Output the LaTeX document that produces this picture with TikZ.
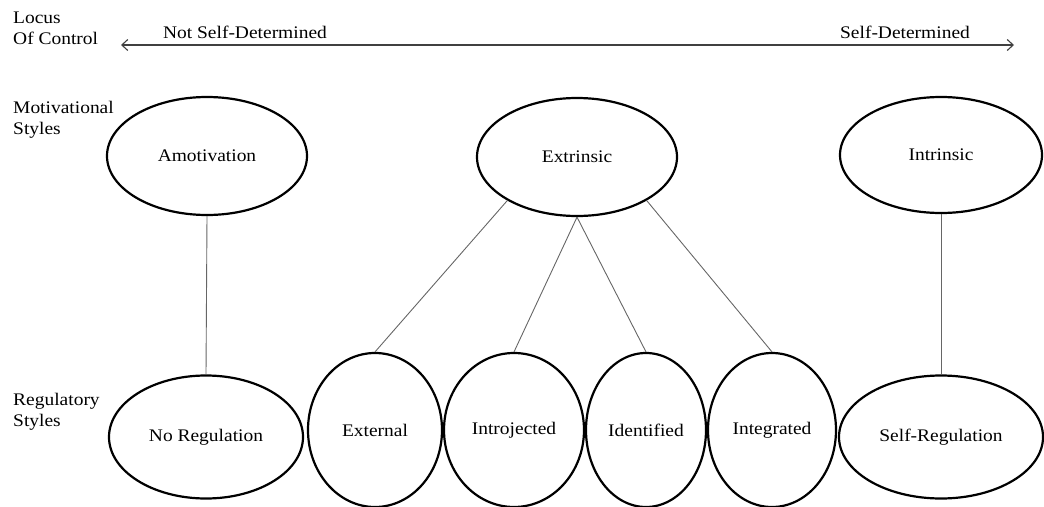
\documentclass[tikz,border=0pt]{standalone}
\usepackage{fontspec}
\setmainfont[FakeStretch=1.1]{Liberation Serif}
\usetikzlibrary{shapes.geometric,arrows.meta}

\begin{document}
\begin{tikzpicture}[x=1pt,y=-1pt,
  every node/.style={inner sep=0pt,font={\fontsize{17.7}{21}\selectfont},text=black},
  motiv/.style={ellipse,draw=black,line width=2.2pt},
  link/.style={draw=black!60,line width=0.9pt},
  rowlabel/.style={anchor=north west,align=left}]
\useasboundingbox (0,0) rectangle (1044,506);
% row labels
\node[rowlabel] (locus) at (13,12) {Locus\\Of Control};
\node[rowlabel] (motlab) at (13,101) {Motivational\\Styles};
\node[rowlabel] (reglab) at (13,393) {Regulatory\\Styles};
% locus of control axis
\coordinate (axl) at (121,45);
\coordinate (axr) at (1014,45);
\draw[black!75,line width=1.1pt,{Straight Barb[length=6pt,width=11pt]}-{Straight Barb[length=6pt,width=11pt]}] (axl) -- (axr);
\node[anchor=base] (notself) at (245,38) {Not Self-Determined};
\node[anchor=base] (self) at (905,38) {Self-Determined};
% motivational styles
\node[motiv,minimum width=200pt,minimum height=118pt] (amot) at (207,156) {Amotivation};
\node[motiv,minimum width=200pt,minimum height=118pt] (extr) at (577,157) {Extrinsic};
\node[motiv,minimum width=202pt,minimum height=116pt] (intr) at (941,155) {Intrinsic};
% regulatory styles
\node[motiv,minimum width=194pt,minimum height=123pt] (noreg) at (206,437) {No Regulation};
\node[motiv,minimum width=134pt,minimum height=154pt] (extern) at (375,430) {External};
\node[motiv,minimum width=140pt,minimum height=154pt] (introj) at (514,430) {Introjected};
\node[motiv,minimum width=120pt,minimum height=154pt] (ident) at (646,430) {Identified};
\node[motiv,minimum width=128pt,minimum height=154pt] (integ) at (772,430) {Integrated};
\node[motiv,minimum width=204pt,minimum height=123pt] (selfreg) at (941,437) {Self-Regulation};
% links
\draw[link] (amot.south) -- (noreg.north);
\draw[link] (intr.south) -- (selfreg.north);
\draw[link] (extr.-148) -- (extern.north);
\draw[link] (extr.south) -- (introj.north);
\draw[link] (extr.south) -- (ident.north);
\draw[link] (extr.-32) -- (integ.north);
\end{tikzpicture}
\end{document}
